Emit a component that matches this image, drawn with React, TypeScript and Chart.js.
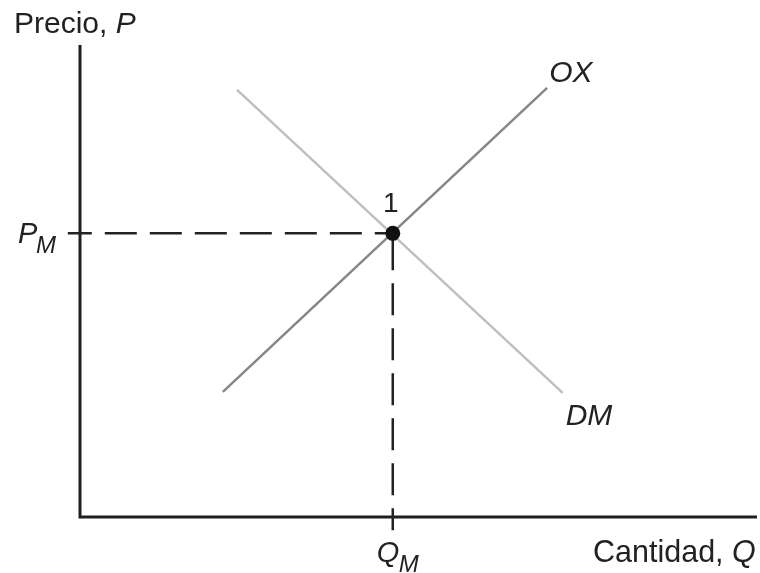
import React, { useEffect, useRef } from "react";
import { Chart, registerables } from "chart.js";

Chart.register(...registerables);

// Curves (data units: x 0..10, y 0..10)
const dmX = [2.32, 7.13];
const dmY = [9.05, 2.63];
const oxX = [2.11, 6.9];
const oxY = [2.65, 9.09];
// Equilibrium
const qM = [4.62];
const pM = [6.01];
// how far the dashed guides run past the axes
const guideExtX = -0.18;
const guideExtY = -0.28;

const FONT = '"Liberation Sans", Arial, Helvetica, sans-serif';
const TEXT = "#222222";

const pairs = (xs: number[], ys: number[]) => xs.map((x, i) => ({ x, y: ys[i] }));

export default function App() {
  const ref = useRef<HTMLCanvasElement | null>(null);
  useEffect(() => {
    if (!ref.current) return;
    const axesPlugin = {
      id: "axesPlugin",
      beforeDatasetsDraw(chart: any) {
        const { ctx, chartArea: a } = chart;
        ctx.save();
        ctx.strokeStyle = "#1e1e1e";
        ctx.lineWidth = 3;
        ctx.lineCap = "butt";
        ctx.beginPath();
        ctx.moveTo(a.left, a.top);
        ctx.lineTo(a.left, a.bottom);
        ctx.lineTo(a.right, a.bottom);
        ctx.stroke();
        ctx.restore();
      },
      afterDraw(chart: any) {
        const { ctx } = chart;
        const xs = chart.scales.x;
        const ys = chart.scales.y;
        const a = chart.chartArea;
        const px = xs.getPixelForValue(qM[0]);
        const py = ys.getPixelForValue(pM[0]);
        ctx.save();
        ctx.fillStyle = TEXT;
        ctx.textBaseline = "alphabetic";
        ctx.textAlign = "left";
        const norm = (s: number) => `${s}px ${FONT}`;
        const ital = (s: number) => `italic ${s}px ${FONT}`;
        // Precio, P
        ctx.font = norm(30);
        const t1 = "Precio, ";
        ctx.fillText(t1, 14, 33);
        const w1 = ctx.measureText(t1).width;
        ctx.font = ital(30);
        ctx.fillText("P", 14 + w1, 33);
        // P_M
        ctx.font = ital(29);
        ctx.fillText("P", a.left - 62, py + 10);
        ctx.font = ital(24);
        ctx.fillText("M", a.left - 44, py + 20);
        // Q_M
        ctx.font = ital(29);
        ctx.fillText("Q", px - 16, a.bottom + 45);
        ctx.font = ital(24);
        ctx.fillText("M", px + 6, a.bottom + 55);
        // Cantidad, Q
        ctx.font = norm(30.5);
        const t2 = "Cantidad, ";
        ctx.fillText(t2, 593, a.bottom + 45);
        const w2 = ctx.measureText(t2).width;
        ctx.font = ital(30.5);
        ctx.fillText("Q", 593 + w2, a.bottom + 45);
        // 1
        ctx.font = norm(28);
        ctx.textAlign = "center";
        ctx.fillText("1", px - 2, py - 21);
        // OX, DM
        ctx.textAlign = "left";
        ctx.font = ital(30);
        ctx.fillText("OX", xs.getPixelForValue(oxX[1]) + 2, ys.getPixelForValue(oxY[1]) - 6);
        ctx.fillText("DM", xs.getPixelForValue(dmX[1]) + 3, ys.getPixelForValue(dmY[1]) + 32);
        ctx.restore();
      },
    };

    const chart = new Chart(ref.current, {
      type: "scatter",
      data: {
        datasets: [
          {
            data: pairs(qM, pM),
            pointRadius: 7.5,
            pointBackgroundColor: "#111",
            pointBorderColor: "#111",
            pointBorderWidth: 0,
            showLine: false,
          },
          {
            data: pairs(oxX, oxY),
            showLine: true,
            borderColor: "#868686",
            borderWidth: 2.5,
            pointRadius: 0,
          },
          {
            data: pairs(dmX, dmY),
            showLine: true,
            borderColor: "#bfbfbf",
            borderWidth: 2.5,
            pointRadius: 0,
          },
          {
            data: [
              { x: guideExtX, y: pM[0] },
              { x: qM[0], y: pM[0] },
            ],
            showLine: true,
            borderColor: "#222",
            borderWidth: 2.5,
            borderDash: [32, 13],
            borderDashOffset: 8,
            pointRadius: 0,
            clip: false as any,
          },
          {
            data: [
              { x: qM[0], y: guideExtY },
              { x: qM[0], y: pM[0] },
            ],
            showLine: true,
            borderColor: "#222",
            borderWidth: 2.5,
            borderDash: [32, 13],
            borderDashOffset: 10,
            pointRadius: 0,
            clip: false as any,
          },
        ],
      },
      options: {
        animation: false,
        responsive: false,
        maintainAspectRatio: false,
        layout: { autoPadding: false, padding: { left: 80, top: 45, right: 3, bottom: 56 } },
        plugins: { legend: { display: false }, tooltip: { enabled: false } },
        scales: {
          x: { type: "linear", min: 0, max: 10, display: false },
          y: { type: "linear", min: 0, max: 10, display: false },
        },
      },
      plugins: [axesPlugin],
    });
    return () => chart.destroy();
  }, []);

  return (
    <div style={{ position: "fixed", left: 0, top: 0, width: 760, height: 573, background: "#fff" }}>
      <canvas ref={ref} width={760} height={573} style={{ width: 760, height: 573, display: "block" }} />
    </div>
  );
}
